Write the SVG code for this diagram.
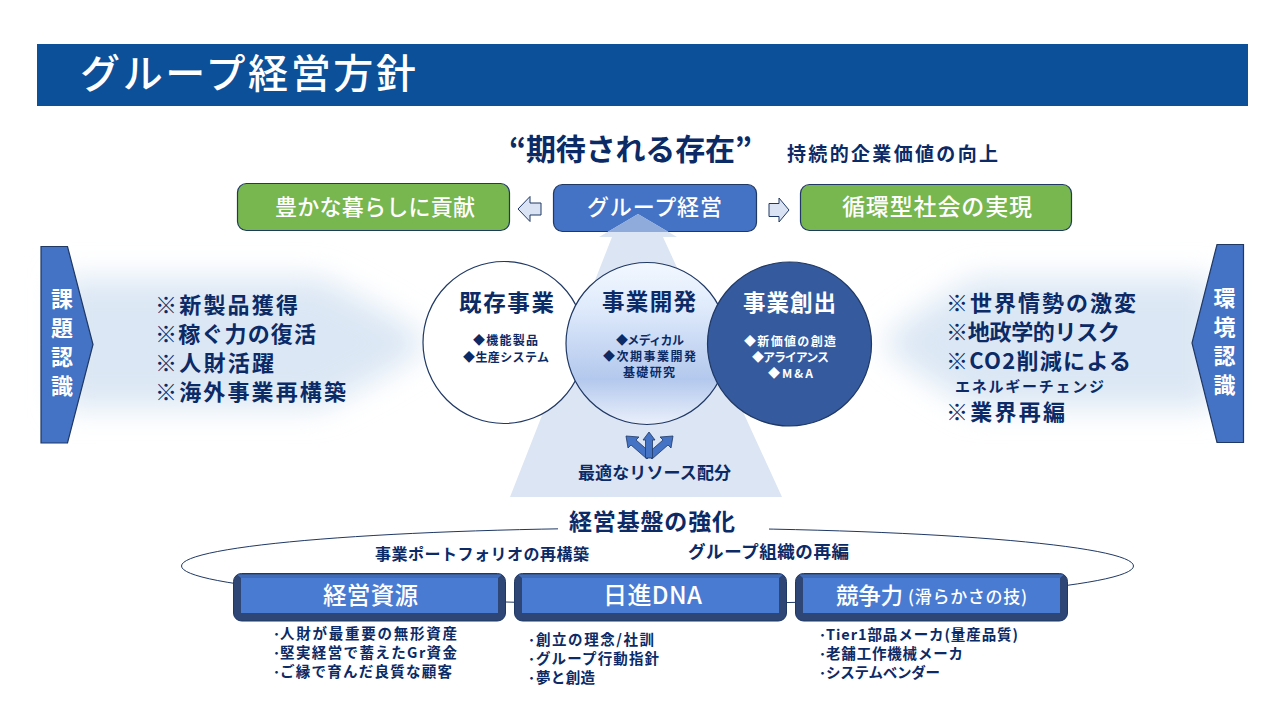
<svg xmlns="http://www.w3.org/2000/svg" width="1280" height="720" viewBox="0 0 1280 720">
<defs>
<style>
text{font-family:"Noto Sans CJK JP","Noto Sans CJK SC",sans-serif;font-weight:700;fill:#0b2a66}
.w{fill:#fff;font-weight:500}
.wb{fill:#fff;font-weight:700}
.m{text-anchor:middle}
.box{stroke:#1f3864;stroke-width:1.2}
.green{fill:#78b64f}
.blue{fill:#4472c4}
.pent{fill:#4472c4;stroke:#1f3864;stroke-width:1.2}
.arr{fill:#dae3f3;stroke:#1f3864;stroke-width:1}
.side{fill:#2d4676;stroke:#1f3864}
.face{fill:#4a7bd3}
.top{fill:#3f6bb8}
.small{fill:#4472c4;stroke:#1f3864;stroke-width:.8}
</style>
<filter id="blur" x="-20%" y="-40%" width="140%" height="180%"><feGaussianBlur stdDeviation="15"/></filter>
<linearGradient id="mid" x1="0" y1="0" x2="0" y2="1">
<stop offset="0" stop-color="#f3f8ff"/><stop offset=".3" stop-color="#dde9fb"/><stop offset=".72" stop-color="#b3c8ed"/><stop offset="1" stop-color="#eaf0fb"/>
</linearGradient>
<clipPath id="inbox"><rect x="553" y="184" width="204" height="48" rx="9"/></clipPath>
</defs>

<rect id="title-band" x="37" y="44" width="1211" height="62" fill="#0b5098"/>
<text id="title" class="w" x="80" y="88" font-size="40" textLength="336">グループ経営方針</text>

<path id="glow-left" d="M60 278 H320 Q425 330 425 343 Q425 356 320 408 H60 Z" fill="#dbe7f4" filter="url(#blur)"/>
<path id="glow-right" d="M1215 278 H975 Q885 330 885 343 Q885 356 975 408 H1215 Z" fill="#dbe7f4" filter="url(#blur)"/>

<text id="headline" x="509" y="160" font-size="30" textLength="243" font-weight="500">“期待される存在”</text>
<text id="headline-sub" x="787" y="161" font-size="19" textLength="211">持続的企業価値の向上</text>

<g id="node-yutaka">
<rect class="box green" x="237.500" y="183.500" width="272" height="47" rx="9"/>
<text class="w" x="275" y="215" font-size="22" textLength="200">豊かな暮らしに貢献</text>
</g>
<g id="node-group">
<rect class="box blue" x="553.500" y="184.500" width="203" height="47" rx="9"/>
</g>
<g id="node-junkan">
<rect class="box green" x="800.500" y="184.500" width="271" height="46" rx="9"/>
<text class="w" x="842" y="215" font-size="23" textLength="190">循環型社会の実現</text>
</g>

<g id="pillar">
<path d="M638 214 L677 237 L663 237 L782 497 L510 497 L612 237 L599 237 Z" fill="#dce5f3"/>
<path d="M638 214 L677 237 L663 237 L666 240 L610 240 L612 237 L599 237 Z" fill="#8fabdc" clip-path="url(#inbox)"/>
</g>
<text id="group-label" class="w" x="587" y="215" font-size="22" textLength="135">グループ経営</text>

<g id="connectors">
<path class="arr" d="M518 209 L530 196.500 V203 H541 V215 H530 V221.500 Z"/>
<path class="arr" d="M789 210 L779 198 V203.500 H769 V216.500 H779 V222 Z"/>
<ellipse cx="657.500" cy="566" rx="476" ry="38" fill="none" stroke="#1f3864" stroke-width="1"/>
<rect x="558" y="515" width="211" height="25" fill="#fff"/>
<g id="resource-arrows">
<path class="small" d="M626 436 L639 437 L636 440 L652 454 L647 459 L631 445 L628 448 Z"/>
<path class="small" d="M673 436 L660 437 L663 440 L647 454 L652 459 L668 445 L671 448 Z"/>
<path class="small" d="M649 432 L655 440 L652.500 440 V458 H645.500 V440 H643 Z"/>
</g>
</g>

<g id="node-kizon">
<circle cx="504" cy="342.500" r="81" fill="#fff" stroke="#1f3864" stroke-width="1.2"/>
<text x="459" y="311" font-size="22.500" textLength="95">既存事業</text>
<text x="473" y="345" font-size="12" textLength="65">◆機能製品</text>
<text x="463" y="362" font-size="12" textLength="86">◆生産システム</text>
</g>
<g id="node-kaihatsu">
<circle cx="647" cy="343.500" r="81" fill="url(#mid)" stroke="#1f3864" stroke-width="1.2"/>
<text x="602" y="310" font-size="22.500" textLength="94">事業開発</text>
<text x="616" y="345" font-size="12" textLength="68">◆メディカル</text>
<text x="603" y="361" font-size="12" textLength="93">◆次期事業開発</text>
<text x="623" y="377" font-size="12" textLength="52">基礎研究</text>
</g>
<g id="node-sousyutsu">
<circle cx="789.500" cy="344" r="82" fill="#355a9e" stroke="#1f3864" stroke-width="1.2"/>
<text class="wb" x="743" y="311" font-size="22.500" textLength="93">事業創出</text>
<text class="wb" x="744" y="346" font-size="12" textLength="92">◆新価値の創造</text>
<text class="wb" x="752" y="362" font-size="12" textLength="77">◆アライアンス</text>
<text class="wb" x="768" y="378" font-size="12" textLength="45">◆M&amp;A</text>
</g>

<text id="resource-label" x="578" y="479" font-size="17" textLength="153">最適なリソース配分</text>

<g id="node-kadai">
<path class="pent" d="M41 246.500 H67.500 L93 344.500 L67.500 443 H41 Z"/>
<text class="wb m" x="62" y="307" font-size="22">課</text>
<text class="wb m" x="62" y="336" font-size="22">題</text>
<text class="wb m" x="62" y="365" font-size="22">認</text>
<text class="wb m" x="62" y="394" font-size="22">識</text>
</g>
<g id="kadai-list">
<text x="155" y="313" font-size="22" textLength="143">※新製品獲得</text>
<text x="155" y="342" font-size="22" textLength="161">※稼ぐ力の復活</text>
<text x="155" y="371" font-size="22" textLength="119">※人財活躍</text>
<text x="155" y="400" font-size="22" textLength="191">※海外事業再構築</text>
</g>

<g id="node-kankyo">
<path class="pent" d="M1243.500 244.500 H1217 L1192 343 L1217 442.500 H1243.500 Z"/>
<text class="wb m" x="1224.500" y="306" font-size="22">環</text>
<text class="wb m" x="1224.500" y="335" font-size="22">境</text>
<text class="wb m" x="1224.500" y="364" font-size="22">認</text>
<text class="wb m" x="1224.500" y="393" font-size="22">識</text>
</g>
<g id="kankyo-list">
<text x="946" y="311" font-size="22" textLength="190">※世界情勢の激変</text>
<text x="946" y="340" font-size="22" textLength="174">※地政学的リスク</text>
<text x="946" y="369" font-size="22" textLength="185">※CO2削減による</text>
<text x="955" y="392" font-size="15" textLength="149">エネルギーチェンジ</text>
<text x="946" y="420" font-size="22" textLength="119">※業界再編</text>
</g>

<text id="base-title" x="569" y="530" font-size="23" textLength="166">経営基盤の強化</text>
<text id="base-left" x="375" y="560" font-size="16" textLength="214">事業ポートフォリオの再構築</text>
<text id="base-right" x="688" y="558" font-size="17.500" textLength="161">グループ組織の再編</text>

<g id="node-keiei">
<rect x="233.500" y="573.500" width="272" height="47.500" rx="8" class="side"/>
<path class="top" d="M237 574.500 H502 L498 578 H241 Z"/>
<rect class="face" x="241" y="578" width="257" height="35"/>
<text class="w" x="323" y="604" font-size="23.500" textLength="95">経営資源</text>
<text x="280" y="639" font-size="14.500" textLength="177">人財が最重要の無形資産</text>
<text x="280" y="658" font-size="14.500" textLength="177">堅実経営で蓄えたGr資金</text>
<text x="280" y="677" font-size="14.500" textLength="172">ご縁で育んだ良質な顧客</text>
<text x="273" y="639" font-size="14">･</text>
<text x="273" y="658" font-size="14">･</text>
<text x="273" y="677" font-size="14">･</text>
</g>
<g id="node-nisshin">
<rect x="514.500" y="573.500" width="272" height="47.500" rx="8" class="side"/>
<path class="top" d="M518 574.500 H783 L779 578 H522 Z"/>
<rect class="face" x="522" y="578" width="257" height="35"/>
<text class="w" x="603" y="604" font-size="24" textLength="99">日進DNA</text>
<text x="536" y="645" font-size="14.500" textLength="118">創立の理念/社訓</text>
<text x="536" y="664" font-size="14.500" textLength="123">グループ行動指針</text>
<text x="536" y="683" font-size="14.500" textLength="59">夢と創造</text>
<text x="528" y="645" font-size="14">･</text>
<text x="528" y="664" font-size="14">･</text>
<text x="528" y="683" font-size="14">･</text>
</g>
<g id="node-kyoso">
<rect x="795.500" y="573.500" width="272" height="47.500" rx="8" class="side"/>
<path class="top" d="M799 574.500 H1064 L1060 578 H803 Z"/>
<rect class="face" x="803" y="578" width="257" height="35"/>
<text class="w" x="836" y="604" font-size="22.500" textLength="67">競争力</text>
<text class="w" x="908" y="603" font-size="17" textLength="119">(滑らかさの技)</text>
<text x="826" y="640" font-size="14.500" textLength="192">Tier1部品メーカ(量産品質)</text>
<text x="826" y="659" font-size="14.500" textLength="137">老舗工作機械メーカ</text>
<text x="826" y="678" font-size="14.500" textLength="114">システムベンダー</text>
<text x="819" y="640" font-size="14">･</text>
<text x="819" y="659" font-size="14">･</text>
<text x="819" y="678" font-size="14">･</text>
</g>
</svg>
